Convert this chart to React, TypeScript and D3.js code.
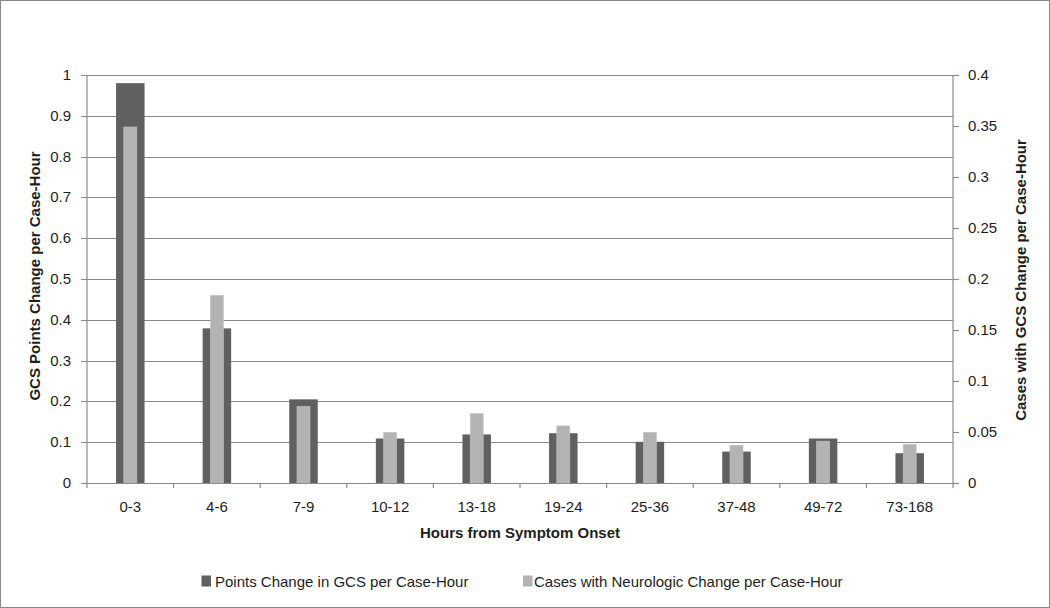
import React from "react";
import * as d3 from "d3";

const categories = ["0-3", "4-6", "7-9", "10-12", "13-18", "19-24", "25-36", "37-48", "49-72", "73-168"];
const pointsChange = [0.98, 0.379, 0.205, 0.109, 0.119, 0.122, 0.101, 0.077, 0.109, 0.073];
const casesChange = [0.349, 0.184, 0.075, 0.0497, 0.068, 0.056, 0.0497, 0.037, 0.041, 0.038];
const leftTicks = [0, 0.1, 0.2, 0.3, 0.4, 0.5, 0.6, 0.7, 0.8, 0.9, 1];
const rightTicks = [0, 0.05, 0.1, 0.15, 0.2, 0.25, 0.3, 0.35, 0.4];
const seriesNames = ["Points Change in GCS per Case-Hour", "Cases with Neurologic Change per Case-Hour"];

const W = 1050, H = 608;
const L = 87, R = 953, T = 75, B = 483;
const DARK = "#606060", LIGHT = "#b3b3b3", GRID = "#8a8a8a";
const FONT = "'Liberation Sans', Arial, sans-serif";
const FS = 15;

function Txt(props: { x: number; y: number; anchor?: string; bold?: boolean; rotate?: number; children: React.ReactNode }) {
  const { x, y, anchor = "start", bold = false, rotate = 0 } = props;
  return (
    <text
      transform={`translate(${x},${y}) rotate(${rotate})`}
      textAnchor={anchor}
      fontSize={FS}
      fontWeight={bold ? "bold" : "normal"}
      fill="#1e1e1e"
    >
      {props.children}
    </text>
  );
}

export default function App() {
  const x = d3.scaleBand().domain(categories).range([L, R]).padding(0);
  const yL = d3.scaleLinear().domain([0, 1]).range([B, T]);
  const yR = d3.scaleLinear().domain([0, 0.4]).range([B, T]);
  const bw = x.bandwidth();
  const darkW = 28.5, lightW = 13;
  return (
    <svg width={W} height={H} style={{ position: "absolute", left: 0, top: 0, background: "#fff" }} fontFamily={FONT}>
      <rect x={0.5} y={0.5} width={W - 1} height={H - 1} fill="#fff" stroke="#8a8a8a" />
      {leftTicks.map((t) => (
        <g key={"g" + t}>
          <line x1={L - 6} x2={R} y1={Math.round(yL(t)) + 0.5} y2={Math.round(yL(t)) + 0.5} stroke={GRID} strokeWidth={1.2} />
          <Txt x={71} y={yL(t) + 5} anchor="end">{String(t)}</Txt>
        </g>
      ))}
      {rightTicks.map((t) => (
        <g key={"r" + t}>
          <line x1={R} x2={R + 6} y1={Math.round(yR(t)) + 0.5} y2={Math.round(yR(t)) + 0.5} stroke={GRID} strokeWidth={1.2} />
          <Txt x={968} y={yR(t) + 5}>{String(t)}</Txt>
        </g>
      ))}
      <line x1={L} x2={L} y1={T} y2={B} stroke={GRID} strokeWidth={1.2} />
      <line x1={R} x2={R} y1={T} y2={B} stroke={GRID} strokeWidth={1.2} />
      {d3.range(categories.length + 1).map((i) => (
        <line key={"bt" + i} x1={L + i * bw} x2={L + i * bw} y1={B} y2={B + 5} stroke={GRID} strokeWidth={1.2} />
      ))}
      {categories.map((c, i) => {
        const cx = (x(c) as number) + bw / 2;
        return (
          <g key={c}>
            <rect x={cx - darkW / 2} y={yL(pointsChange[i])} width={darkW} height={B - yL(pointsChange[i])} fill={DARK} />
            <rect x={cx - lightW / 2} y={yR(casesChange[i])} width={lightW} height={B - yR(casesChange[i])} fill={LIGHT} stroke="#c4c4c4" strokeWidth={0.6} />
            <Txt x={cx} y={512} anchor="middle">{c}</Txt>
          </g>
        );
      })}
      <line x1={L} x2={R} y1={B + 0.5} y2={B + 0.5} stroke={GRID} strokeWidth={1.2} />
      <Txt x={(L + R) / 2} y={538} anchor="middle" bold>Hours from Symptom Onset</Txt>
      <Txt x={40} y={276} anchor="middle" bold rotate={-90}>GCS Points Change per Case-Hour</Txt>
      <Txt x={1026} y={280} anchor="middle" bold rotate={-90}>Cases with GCS Change per Case-Hour</Txt>
      <rect x={201.5} y={575.5} width={9.5} height={11} fill={DARK} />
      <Txt x={215} y={587}>{seriesNames[0]}</Txt>
      <rect x={523} y={575.5} width={9.5} height={11} fill={LIGHT} />
      <Txt x={534} y={587}>{seriesNames[1]}</Txt>
    </svg>
  );
}
